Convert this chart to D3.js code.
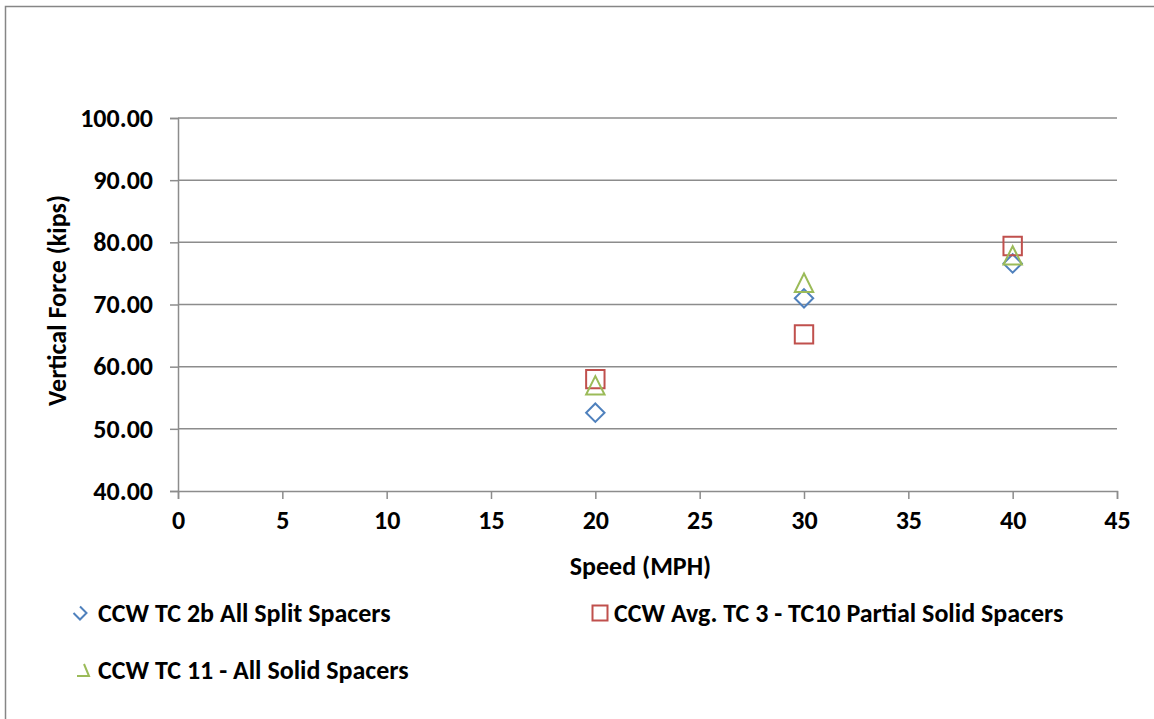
<!DOCTYPE html>
<html>
<head>
<meta charset="utf-8">
<script src="https://cdn.jsdelivr.net/npm/d3@7"></script>
<style>
  body { margin: 0; background: #fff; overflow: hidden; }
  svg { display: block; overflow: visible; }
  text { font-family: Carlito, Calibri, Lato, "Open Sans", sans-serif; font-weight: bold; fill: #000; }
</style>
</head>
<body>
<div id="chart"></div>
<script>
const speeds = [20, 30, 40];
const splitSpacers = [52.6, 71.0, 76.6];
const partialSolid = [58.0, 65.2, 79.4];
const allSolid = [57.0, 73.5, 77.9];
const seriesNames = [
  "CCW TC 2b All Split Spacers",
  "CCW Avg. TC 3 - TC10 Partial Solid Spacers",
  "CCW TC 11 - All Solid Spacers"
];
const xTicks = [0, 5, 10, 15, 20, 25, 30, 35, 40, 45];
const yTicks = [40, 50, 60, 70, 80, 90, 100];

const width = 1154, height = 719;
const margin = { top: 118, right: 37, bottom: 228, left: 178 };
const innerWidth = width - margin.left - margin.right;
const innerHeight = height - margin.top - margin.bottom;
const fontSize = "26px";

const series = [
  { name: seriesNames[0], values: splitSpacers, color: "#4F81BD", shape: "diamond" },
  { name: seriesNames[1], values: partialSolid, color: "#C0504D", shape: "square" },
  { name: seriesNames[2], values: allSolid, color: "#9BBB59", shape: "triangle" }
];

function marker(shape, r) {
  const p = d3.path();
  if (shape === "square") {
    p.rect(-r, -r, 2 * r, 2 * r);
  } else if (shape === "diamond") {
    p.moveTo(0, -r); p.lineTo(r, 0); p.lineTo(0, r); p.lineTo(-r, 0); p.closePath();
  } else {
    p.moveTo(0, -r); p.lineTo(r, r); p.lineTo(-r, r); p.closePath();
  }
  return p.toString();
}

const x = d3.scaleLinear().domain([0, 45]).range([0, innerWidth]);
const y = d3.scaleLinear().domain([40, 100]).range([innerHeight, 0]);

const root = d3.select("#chart").append("svg")
  .attr("width", width)
  .attr("height", height);

// outer chart frame (only left and top edges are inside the picture)
root.append("path")
  .attr("d", `M5.5,${height}V6.5H${width}`)
  .attr("fill", "none").attr("stroke", "#868686").attr("stroke-width", 1.5);

const svg = root.append("g")
  .attr("transform", `translate(${margin.left},${margin.top})`);

// gridlines
svg.selectAll(".grid")
  .data(yTicks.slice(1))
  .enter()
  .append("line")
  .attr("x1", 0).attr("x2", innerWidth)
  .attr("y1", d => y(d)).attr("y2", d => y(d))
  .attr("stroke", "#8c8c8c").attr("stroke-width", 1.5);

const yAxis = svg.append("g")
  .call(d3.axisLeft(y).tickValues(yTicks).tickSize(8).tickPadding(17).tickFormat(d3.format(".2f")));
const xAxis = svg.append("g")
  .attr("transform", `translate(0,${innerHeight})`)
  .call(d3.axisBottom(x).tickValues(xTicks).tickSize(8).tickPadding(12));

[yAxis, xAxis].forEach(a => {
  a.attr("font-size", null).attr("font-family", null).style("font-size", fontSize);
  a.select(".domain").attr("stroke", "#8c8c8c").attr("stroke-width", 1.5);
  a.selectAll(".tick line").attr("stroke", "#8c8c8c").attr("stroke-width", 1.5);
  a.selectAll(".tick text").style("font-size", fontSize).attr("fill", "#000");
});

// axis titles
svg.append("text")
  .attr("x", innerWidth / 2 - 7)
  .attr("y", innerHeight + 84)
  .attr("text-anchor", "middle")
  .style("font-size", fontSize)
  .text("Speed (MPH)");

svg.append("text")
  .attr("transform", `translate(${66 - margin.left},${innerHeight / 2 - 4}) rotate(-90)`)
  .attr("text-anchor", "middle")
  .style("font-size", fontSize)
  .text("Vertical Force (kips)");

// markers
series.forEach(s => {
  svg.selectAll(null)
    .data(speeds.map((sp, i) => [sp, s.values[i]]))
    .enter()
    .append("path")
    .attr("transform", d => `translate(${x(d[0])},${y(d[1])})`)
    .attr("d", marker(s.shape, 9.2))
    .attr("fill", "none")
    .attr("stroke", s.color)
    .attr("stroke-width", 2);
});

// legend
const legendPos = [[80, 613], [600, 613], [83, 670]];
const legend = root.selectAll(".legend")
  .data(series)
  .enter()
  .append("g")
  .attr("class", "legend")
  .attr("transform", (d, i) => `translate(${legendPos[i][0]},${legendPos[i][1]})`);

legend.append("path")
  .attr("d", d => {
    if (d.shape === "diamond") return "M-6.5,0L0,6.5L6.5,0L0,-6.5";
    if (d.shape === "triangle") return "M1,-6L6,6L-6,6";
    return marker("square", 7.5);
  })
  .attr("fill", "none")
  .attr("stroke", d => d.color)
  .attr("stroke-width", 2);

legend.append("text")
  .attr("x", (d, i) => [18, 14, 15][i])
  .attr("y", 9)
  .style("font-size", fontSize)
  .text(d => d.name);
</script>
</body>
</html>
